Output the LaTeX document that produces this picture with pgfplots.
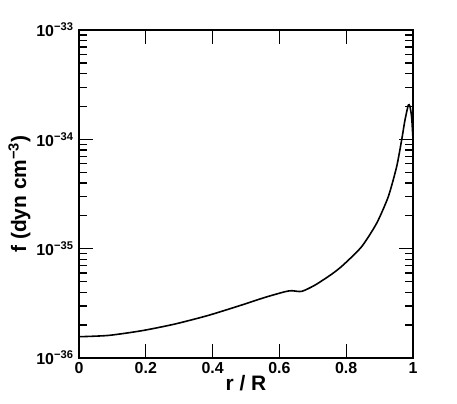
\documentclass[border=0pt]{standalone}
\usepackage{fontspec}
\setmainfont{Liberation Sans}
\usepackage{pgfplots}
\pgfplotsset{compat=1.18}
\usetikzlibrary{calc}

\begin{document}
\begin{tikzpicture}
\begin{axis}[
    name=ax,
    scale only axis,
    width=334bp, height=328bp,
    xmin=0, xmax=1,
    ymode=log, ymin=1e-36, ymax=1e-33,
    axis line style={line width=1.7pt},
    major tick style={black, line width=1.3pt},
    minor tick style={black, line width=1.3pt},
    major tick length=14pt, minor tick length=8pt,
    xtick={0,0.2,0.4,0.6,0.8,1},
    xticklabels={\bfseries 0,\bfseries 0.2,\bfseries 0.4,\bfseries 0.6,\bfseries 0.8,\bfseries 1},
    ytick={1e-36,1e-35,1e-34,1e-33},
    yticklabels={
      \bfseries 10\textsuperscript{\bfseries −36},
      \bfseries 10\textsuperscript{\bfseries −35},
      \bfseries 10\textsuperscript{\bfseries −34},
      \bfseries 10\textsuperscript{\bfseries −33}},
    minor ytick={2e-36,3e-36,4e-36,5e-36,6e-36,7e-36,8e-36,9e-36,
                 2e-35,3e-35,4e-35,5e-35,6e-35,7e-35,8e-35,9e-35,
                 2e-34,3e-34,4e-34,5e-34,6e-34,7e-34,8e-34,9e-34},
    every tick label/.append style={font=\fontsize{16}{18}\selectfont},
    xticklabel style={yshift=-1bp},
    yticklabel style={xshift=-2bp},
    xlabel={\bfseries r / R},
    ylabel={\bfseries f (dyn cm\textsuperscript{\bfseries −3})},
    every axis label/.append style={font=\fontsize{21}{24}\selectfont},
    xlabel style={yshift=5bp},
    ylabel style={yshift=-1bp},
]
\addplot[black, line width=1.6pt, smooth, tension=0.4] table[x=r, y expr=10^\thisrow{lf}] {
r      lf
0.000  -35.805
0.088  -35.793
0.188  -35.750
0.287  -35.689
0.387  -35.610
0.487  -35.515
0.557  -35.445
0.617  -35.393
0.637  -35.384
0.667  -35.390
0.707  -35.332
0.757  -35.232
0.791  -35.149
0.846  -34.982
0.891  -34.768
0.926  -34.524
0.951  -34.250
0.966  -34.006
0.976  -33.823
0.986  -33.686
0.991  -33.700
0.996  -33.800
1.000  -34.000
};
\end{axis}
\pgfresetboundingbox
\path[use as bounding box] ($(ax.south west)+(-79bp,-46bp)$) rectangle ($(ax.north east)+(44bp,30bp)$);
\end{tikzpicture}
\end{document}
